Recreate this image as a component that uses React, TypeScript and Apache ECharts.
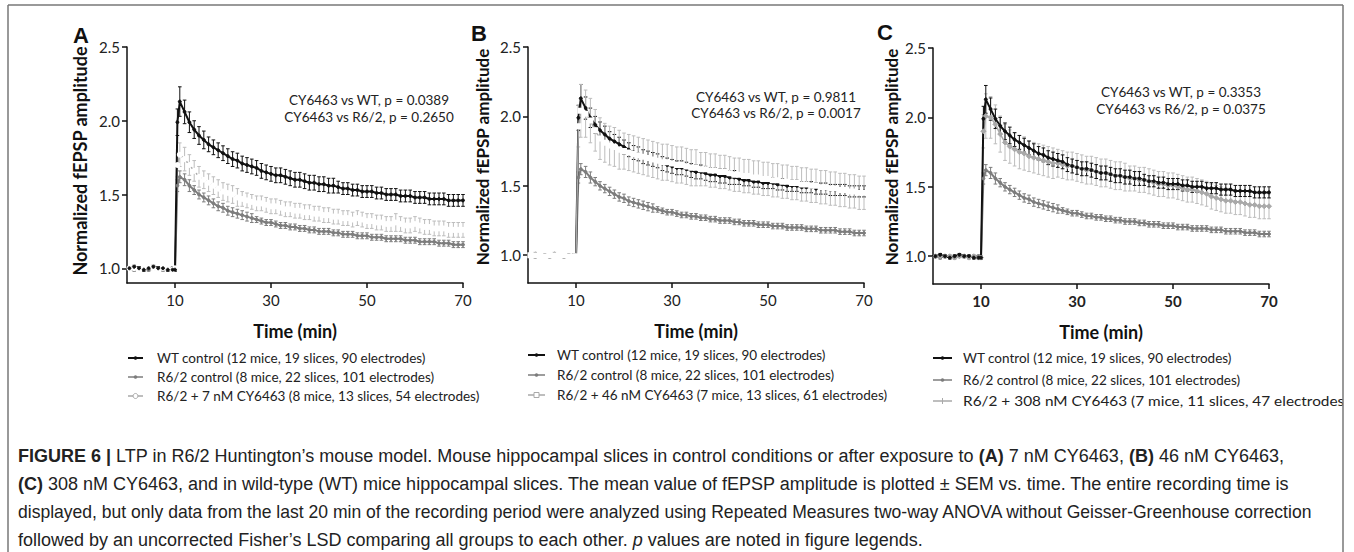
import React, { useEffect, useRef } from "react";
import * as echarts from "echarts";

// Time points (min)
const TIME = [0.5, 1.5, 2.5, 3.5, 4.5, 5.5, 6.5, 7.5, 8.5, 9.5, 10, 10.5,
  11, 12, 13, 14, 15, 16, 17, 18, 19, 20,
  21, 22, 23, 24, 25, 26, 27, 28, 29, 30,
  31, 32, 33, 34, 35, 36, 37, 38, 39, 40,
  41, 42, 43, 44, 45, 46, 47, 48, 49, 50,
  51, 52, 53, 54, 55, 56, 57, 58, 59, 60,
  61, 62, 63, 64, 65, 66, 67, 68, 69, 70];

// WT control mean / SEM
const WT_MEAN = [1.00, 1.01, 1.00, 0.99, 1.00, 1.01, 1.00, 1.00, 0.99, 0.99, 0.99, 1.99,
  2.13, 2.06, 1.99, 1.94, 1.90, 1.87, 1.84, 1.82, 1.80, 1.78,
  1.76, 1.74, 1.73, 1.71, 1.70, 1.69, 1.68, 1.66, 1.65, 1.64,
  1.63, 1.63, 1.62, 1.61, 1.60, 1.60, 1.59, 1.58, 1.58, 1.57,
  1.57, 1.56, 1.56, 1.55, 1.54, 1.54, 1.53, 1.53, 1.52, 1.52,
  1.52, 1.51, 1.51, 1.50, 1.50, 1.50, 1.49, 1.49, 1.49, 1.48,
  1.48, 1.48, 1.47, 1.47, 1.47, 1.47, 1.46, 1.46, 1.46, 1.46];
const WT_SEM = [0.01, 0.01, 0.01, 0.01, 0.01, 0.01, 0.01, 0.01, 0.01, 0.01, 0.01, 0.09,
  0.10, 0.08, 0.07, 0.06, 0.06, 0.06, 0.05, 0.05, 0.05, 0.05,
  0.05, 0.05, 0.05, 0.05, 0.05, 0.05, 0.05, 0.05, 0.05, 0.05,
  0.05, 0.05, 0.05, 0.05, 0.05, 0.05, 0.05, 0.05, 0.05, 0.05,
  0.05, 0.05, 0.05, 0.04, 0.04, 0.04, 0.04, 0.04, 0.04, 0.04,
  0.04, 0.04, 0.04, 0.04, 0.04, 0.04, 0.04, 0.04, 0.04, 0.04,
  0.04, 0.04, 0.04, 0.04, 0.04, 0.04, 0.04, 0.04, 0.04, 0.04];

// R6/2 control mean / SEM
const R62_MEAN = [1.00, 0.99, 1.00, 1.00, 0.99, 1.00, 1.00, 0.99, 1.00, 1.00, 0.99, 1.56,
  1.62, 1.60, 1.56, 1.53, 1.50, 1.48, 1.46, 1.44, 1.42, 1.41,
  1.39, 1.38, 1.37, 1.36, 1.35, 1.34, 1.33, 1.32, 1.31, 1.31,
  1.30, 1.29, 1.29, 1.28, 1.28, 1.27, 1.27, 1.26, 1.26, 1.25,
  1.25, 1.25, 1.24, 1.24, 1.23, 1.23, 1.23, 1.22, 1.22, 1.22,
  1.21, 1.21, 1.21, 1.20, 1.20, 1.20, 1.20, 1.19, 1.19, 1.19,
  1.18, 1.18, 1.18, 1.18, 1.17, 1.17, 1.17, 1.16, 1.16, 1.16];
const R62_SEM = [0.01, 0.01, 0.01, 0.01, 0.01, 0.01, 0.01, 0.01, 0.01, 0.01, 0.01, 0.04,
  0.04, 0.04, 0.04, 0.03, 0.03, 0.03, 0.03, 0.03, 0.03, 0.03,
  0.03, 0.03, 0.03, 0.03, 0.03, 0.03, 0.02, 0.02, 0.02, 0.02,
  0.02, 0.02, 0.02, 0.02, 0.02, 0.02, 0.02, 0.02, 0.02, 0.02,
  0.02, 0.02, 0.02, 0.02, 0.02, 0.02, 0.02, 0.02, 0.02, 0.02,
  0.02, 0.02, 0.02, 0.02, 0.02, 0.02, 0.02, 0.02, 0.02, 0.02,
  0.02, 0.02, 0.02, 0.02, 0.02, 0.02, 0.02, 0.02, 0.02, 0.02];

// R6/2 + 7 nM CY6463 (panel A)
const CY7_MEAN = [1.00, 1.00, 0.99, 1.00, 1.01, 1.00, 0.99, 1.00, 1.00, 0.99, 1.00, 1.70,
  1.77, 1.74, 1.70, 1.66, 1.62, 1.60, 1.58, 1.56, 1.54, 1.52,
  1.51, 1.50, 1.48, 1.47, 1.46, 1.45, 1.44, 1.44, 1.43, 1.42,
  1.42, 1.41, 1.40, 1.40, 1.39, 1.39, 1.38, 1.38, 1.37, 1.37,
  1.36, 1.36, 1.35, 1.35, 1.34, 1.34, 1.33, 1.34, 1.33, 1.32,
  1.32, 1.31, 1.31, 1.30, 1.30, 1.31, 1.30, 1.29, 1.29, 1.30,
  1.29, 1.28, 1.28, 1.27, 1.27, 1.27, 1.26, 1.26, 1.26, 1.26];
const CY7_SEM = [0.01, 0.01, 0.01, 0.01, 0.01, 0.01, 0.01, 0.01, 0.01, 0.01, 0.01, 0.08,
  0.08, 0.08, 0.07, 0.07, 0.07, 0.06, 0.06, 0.06, 0.06, 0.06,
  0.06, 0.06, 0.06, 0.05, 0.05, 0.05, 0.05, 0.05, 0.05, 0.05,
  0.05, 0.05, 0.05, 0.05, 0.05, 0.05, 0.05, 0.05, 0.05, 0.05,
  0.05, 0.05, 0.05, 0.05, 0.05, 0.05, 0.05, 0.05, 0.05, 0.05,
  0.05, 0.05, 0.05, 0.05, 0.05, 0.06, 0.05, 0.05, 0.05, 0.05,
  0.05, 0.05, 0.05, 0.05, 0.05, 0.05, 0.05, 0.05, 0.05, 0.05];

// R6/2 + 46 nM CY6463 (panel B)
const CY46_MEAN = [1.00, 1.00, 1.00, 0.99, 1.00, 1.00, 1.00, 1.00, 0.99, 0.99, 0.99, 1.93,
  2.04, 2.02, 1.97, 1.90, 1.84, 1.81, 1.79, 1.78, 1.76, 1.75,
  1.74, 1.73, 1.72, 1.71, 1.70, 1.69, 1.68, 1.67, 1.67, 1.66,
  1.65, 1.65, 1.64, 1.63, 1.63, 1.62, 1.62, 1.61, 1.61, 1.60,
  1.60, 1.59, 1.58, 1.58, 1.57, 1.57, 1.56, 1.56, 1.55, 1.55,
  1.54, 1.54, 1.53, 1.53, 1.52, 1.52, 1.51, 1.51, 1.50, 1.50,
  1.49, 1.49, 1.48, 1.48, 1.47, 1.47, 1.46, 1.46, 1.45, 1.45];
const CY46_SEM = [0.01, 0.01, 0.01, 0.01, 0.01, 0.01, 0.01, 0.01, 0.01, 0.01, 0.01, 0.15,
  0.19, 0.17, 0.16, 0.15, 0.15, 0.14, 0.14, 0.14, 0.14, 0.13,
  0.13, 0.13, 0.13, 0.13, 0.13, 0.13, 0.13, 0.13, 0.13, 0.13,
  0.13, 0.13, 0.13, 0.13, 0.13, 0.12, 0.12, 0.12, 0.12, 0.12,
  0.12, 0.12, 0.12, 0.12, 0.12, 0.12, 0.12, 0.12, 0.12, 0.12,
  0.12, 0.12, 0.12, 0.12, 0.12, 0.12, 0.12, 0.12, 0.12, 0.12,
  0.12, 0.12, 0.12, 0.12, 0.12, 0.12, 0.12, 0.12, 0.12, 0.12];

// R6/2 + 308 nM CY6463 (panel C)
const CY308_MEAN = [1.00, 1.00, 1.00, 1.00, 0.99, 1.00, 1.00, 0.99, 1.00, 0.99, 0.99, 1.90,
  2.01, 2.00, 1.95, 1.88, 1.82, 1.79, 1.77, 1.75, 1.74, 1.72,
  1.71, 1.70, 1.69, 1.68, 1.67, 1.67, 1.66, 1.65, 1.65, 1.64,
  1.63, 1.62, 1.62, 1.61, 1.60, 1.60, 1.59, 1.58, 1.58, 1.57,
  1.56, 1.56, 1.55, 1.55, 1.54, 1.53, 1.52, 1.52, 1.51, 1.51,
  1.50, 1.49, 1.48, 1.48, 1.47, 1.46, 1.45, 1.43, 1.42, 1.41,
  1.40, 1.40, 1.39, 1.39, 1.38, 1.37, 1.37, 1.36, 1.36, 1.36];
const CY308_SEM = [0.01, 0.01, 0.01, 0.01, 0.01, 0.01, 0.01, 0.01, 0.01, 0.01, 0.01, 0.12,
  0.16, 0.15, 0.14, 0.13, 0.13, 0.12, 0.12, 0.12, 0.12, 0.11,
  0.11, 0.11, 0.11, 0.11, 0.11, 0.10, 0.10, 0.10, 0.10, 0.10,
  0.10, 0.10, 0.10, 0.10, 0.10, 0.10, 0.10, 0.10, 0.10, 0.10,
  0.09, 0.09, 0.09, 0.09, 0.09, 0.09, 0.09, 0.09, 0.09, 0.09,
  0.09, 0.09, 0.09, 0.09, 0.09, 0.09, 0.09, 0.09, 0.09, 0.09,
  0.09, 0.09, 0.09, 0.09, 0.09, 0.09, 0.09, 0.09, 0.09, 0.09];

const X_TICKS = [10, 30, 50, 70];
const Y_TICKS = [1.0, 1.5, 2.0, 2.5];
const PANEL_LETTERS = ["A", "B", "C"];
const P_TEXTS = [
  ["CY6463 vs WT, p = 0.0389", "CY6463 vs R6/2, p = 0.2650"],
  ["CY6463 vs WT, p = 0.9811", "CY6463 vs R6/2, p = 0.0017"],
  ["CY6463 vs WT, p = 0.3353", "CY6463 vs R6/2, p = 0.0375"],
];
const LEGEND_WT = "WT control (12 mice, 19 slices, 90 electrodes)";
const LEGEND_R62 = "R6/2 control (8 mice, 22 slices, 101 electrodes)";
const LEGEND_TRT = [
  "R6/2 + 7 nM CY6463 (8 mice, 13 slices, 54 electrodes)",
  "R6/2 + 46 nM CY6463 (7 mice, 13 slices, 61 electrodes)",
  "R6/2 + 308 nM CY6463 (7 mice, 11 slices, 47 electrodes)",
];
const Y_TITLE = "Normalized fEPSP amplitude";
const X_TITLE = "Time (min)";
const CAPTION = [
  "{b|FIGURE 6 |} LTP in R6/2 Huntington\u2019s mouse model. Mouse hippocampal slices in control conditions or after exposure to {b|(A)} 7 nM CY6463, {b|(B)} 46 nM CY6463,",
  "{b|(C)} 308 nM CY6463, and in wild-type (WT) mice hippocampal slices. The mean value of fEPSP amplitude is plotted \u00b1 SEM vs. time. The entire recording time is",
  "displayed, but only data from the last 20 min of the recording period were analyzed using Repeated Measures two-way ANOVA without Geisser-Greenhouse correction",
  "followed by an uncorrected Fisher\u2019s LSD comparing all groups to each other. {i|p} values are noted in figure legends.",
];

const C_WT = "#111111";
const C_R62 = "#7d7d7d";
const C_TRT = "#a9a9a9";
const C_TRT_ERR = "#bdbdbd";
const FONT = "Lato";

export default function App() {
  const ref = useRef<HTMLDivElement>(null);
  useEffect(() => {
    const el = ref.current!;
    const chart = echarts.init(el, null, { renderer: "svg" });

    const panels = [
      { left: 127, top: 47, yMin: 0.9, trt: CY7_MEAN, trtSem: CY7_SEM, sym: "emptyCircle", symSize: 4, order: ["r62", "trt", "wt"], boldX: false },
      { left: 528, top: 47, yMin: 0.8, trt: CY46_MEAN, trtSem: CY46_SEM, sym: "emptyRect", symSize: 4, order: ["r62", "wt", "trt"], boldX: false },
      { left: 933, top: 48, yMin: 0.8, trt: CY308_MEAN, trtSem: CY308_SEM, sym: "diamond", symSize: 5, order: ["r62", "trt", "wt"], boldX: true },
    ];

    const grids: any[] = [];
    const xAxes: any[] = [];
    const yAxes: any[] = [];
    const series: any[] = [];

    const errSeries = (idx: number, mean: number[], sem: number[], color: string, capW: number) => ({
      type: "custom",
      xAxisIndex: idx,
      yAxisIndex: idx,
      silent: true,
      encode: { x: 0, y: 1 },
      data: TIME.map((t, i) => [t, mean[i], sem[i]]),
      renderItem: (params: any, api: any) => {
        const x = api.value(0);
        const y = api.value(1);
        const s = api.value(2);
        const hi = api.coord([x, y + s]);
        const lo = api.coord([x, y - s]);
        const st = { stroke: color, lineWidth: 1 };
        return {
          type: "group",
          children: [
            { type: "line", shape: { x1: hi[0], y1: hi[1], x2: lo[0], y2: lo[1] }, style: st },
            { type: "line", shape: { x1: hi[0] - capW, y1: hi[1], x2: hi[0] + capW, y2: hi[1] }, style: st },
            { type: "line", shape: { x1: lo[0] - capW, y1: lo[1], x2: lo[0] + capW, y2: lo[1] }, style: st },
          ],
        };
      },
    });

    const lineSeries = (idx: number, name: string, mean: number[], color: string, symbol: string, size: number, width: number) => ({
      type: "line",
      name,
      xAxisIndex: idx,
      yAxisIndex: idx,
      data: TIME.map((t, i) => [t, mean[i]]),
      symbol,
      symbolSize: size,
      showSymbol: true,
      silent: true,
      lineStyle: { color, width },
      itemStyle: { color: symbol.startsWith("empty") ? "#ffffff" : color, borderColor: color, borderWidth: 1 },
    });

    panels.forEach((p, idx) => {
      grids.push({ left: p.left, top: p.top, width: 336, height: 236, containLabel: false, outerBoundsMode: "none" });
      xAxes.push({
        type: "value",
        gridIndex: idx,
        min: 0,
        max: 70,
        axisLine: { show: true, lineStyle: { color: "#111", width: 1.5 } },
        axisTick: { show: true, length: 5, customValues: X_TICKS, lineStyle: { color: "#111", width: 1.5 } },
        axisLabel: {
          customValues: X_TICKS,
          margin: 9,
          fontFamily: FONT,
          fontSize: 15,
          fontWeight: p.boldX ? "bold" : "normal",
          color: "#222",
        },
        splitLine: { show: false },
      });
      yAxes.push({
        type: "value",
        gridIndex: idx,
        min: p.yMin,
        max: 2.5,
        axisLine: { show: true, lineStyle: { color: "#111", width: 1.5 } },
        axisTick: { show: true, length: 5, customValues: Y_TICKS, lineStyle: { color: "#111", width: 1.5 } },
        axisLabel: {
          customValues: Y_TICKS,
          margin: 7,
          fontFamily: FONT,
          fontSize: 15,
          color: "#222",
          formatter: (v: number) => v.toFixed(1),
        },
        splitLine: { show: false },
      });
      p.order.forEach((k) => {
        if (k === "wt") {
          series.push(errSeries(idx, WT_MEAN, WT_SEM, C_WT, 1.8));
          series.push(lineSeries(idx, "WT", WT_MEAN, C_WT, "circle", 3, 2));
        } else if (k === "r62") {
          series.push(errSeries(idx, R62_MEAN, R62_SEM, C_R62, 1.8));
          series.push(lineSeries(idx, "R6/2", R62_MEAN, C_R62, "circle", 3, 2));
        } else {
          series.push(errSeries(idx, p.trt, p.trtSem, C_TRT_ERR, 1.8));
          series.push(lineSeries(idx, "CY6463", p.trt, C_TRT, p.sym, p.symSize, 1.5));
        }
      });
    });

    const graphic: any[] = [];
    // frame
    graphic.push({ type: "line", shape: { x1: 8, y1: 5, x2: 1343, y2: 5 }, style: { stroke: "#777", lineWidth: 1.5 } });
    graphic.push({ type: "line", shape: { x1: 8, y1: 5, x2: 8, y2: 560 }, style: { stroke: "#777", lineWidth: 1.5 } });

    const letterPos = [[81, 35], [479, 33], [885, 32]];
    const yTitlePos = [[80, 161], [482, 157], [891, 157]];
    const pTextPos = [[369, 100, 117], [776, 97, 113], [1181, 92, 109]];
    const xTitlePos = [[295, 331], [696, 331], [1101, 332]];
    const legendPos = [
      { x0: 128, x1: 143, tx: 157, ys: [358, 377, 396], sx: 1 },
      { x0: 528, x1: 545, tx: 557, ys: [355, 375, 395], sx: 1 },
      { x0: 933, x1: 952, tx: 963, ys: [358, 380, 401], sx: 1.14 },
    ];

    panels.forEach((p, idx) => {
      graphic.push({
        type: "text", x: letterPos[idx][0], y: letterPos[idx][1],
        style: { text: PANEL_LETTERS[idx], font: 'bold 22px "Liberation Sans"', fill: "#111", align: "center", verticalAlign: "middle" },
      });
      graphic.push({
        type: "text", x: yTitlePos[idx][0], y: yTitlePos[idx][1], rotation: Math.PI / 2,
        style: { text: Y_TITLE, font: `bold ${idx === 0 ? 18 : 17}px ${FONT}`, fill: "#111", align: "center", verticalAlign: "middle" },
      });
      graphic.push({
        type: "text", x: pTextPos[idx][0], y: pTextPos[idx][1],
        style: { text: P_TEXTS[idx][0], font: `13.5px ${FONT}`, fill: "#222", align: "center", verticalAlign: "middle" },
      });
      graphic.push({
        type: "text", x: pTextPos[idx][0], y: pTextPos[idx][2],
        style: { text: P_TEXTS[idx][1], font: `13.5px ${FONT}`, fill: "#222", align: "center", verticalAlign: "middle" },
      });
      graphic.push({
        type: "text", x: xTitlePos[idx][0], y: xTitlePos[idx][1],
        style: { text: X_TITLE, font: `bold 18px ${FONT}`, fill: "#111", align: "center", verticalAlign: "middle" },
      });
      const lg = legendPos[idx];
      const labels = [LEGEND_WT, LEGEND_R62, LEGEND_TRT[idx]];
      const colors = [C_WT, C_R62, C_TRT];
      labels.forEach((lab, j) => {
        const y = lg.ys[j];
        const cx = (lg.x0 + lg.x1) / 2;
        graphic.push({ type: "line", shape: { x1: lg.x0, y1: y, x2: lg.x1, y2: y }, style: { stroke: colors[j], lineWidth: j === 0 ? 2 : 1.5 } });
        if (j < 2) {
          graphic.push({ type: "circle", shape: { cx, cy: y, r: 1.8 }, style: { fill: colors[j] } });
        } else if (idx === 0) {
          graphic.push({ type: "circle", shape: { cx, cy: y, r: 2.5 }, style: { fill: "#fff", stroke: colors[j], lineWidth: 1 } });
        } else if (idx === 1) {
          graphic.push({ type: "rect", shape: { x: cx - 2.5, y: y - 2.5, width: 5, height: 5 }, style: { fill: "#fff", stroke: colors[j], lineWidth: 1 } });
        } else {
          graphic.push({ type: "line", shape: { x1: cx, y1: y - 3, x2: cx, y2: y + 3 }, style: { stroke: colors[j], lineWidth: 1 } });
        }
        graphic.push({
          type: "text", x: lg.tx, y, scaleX: j === 2 ? lg.sx : 1,
          style: { text: lab, font: `13.5px ${FONT}`, fill: "#222", align: "left", verticalAlign: "middle" },
        });
      });
    });

    // clip right edge and draw right frame
    graphic.push({ type: "rect", shape: { x: 1343, y: 0, width: 20, height: 560 }, style: { fill: "#fff" } });
    graphic.push({ type: "line", shape: { x1: 1343, y1: 5, x2: 1343, y2: 560 }, style: { stroke: "#777", lineWidth: 1.5 } });

    const capY = [456, 484, 512, 540];
    const capSX = [1, 1, 0.975, 1];
    CAPTION.forEach((line, i) => {
      graphic.push({
        type: "text", x: 18, y: capY[i], scaleX: capSX[i],
        style: {
          text: line,
          fontFamily: "Liberation Sans",
          fontSize: 18,
          fill: "#222",
          align: "left",
          verticalAlign: "middle",
          rich: {
            b: { fontFamily: "Liberation Sans", fontSize: 18, fontWeight: "bold", fill: "#222" },
            i: { fontFamily: "Liberation Sans", fontSize: 18, fontStyle: "italic", fill: "#222" },
          },
        },
      });
    });

    chart.setOption({
      animation: false,
      backgroundColor: "#ffffff",
      grid: grids,
      xAxis: xAxes,
      yAxis: yAxes,
      series,
      graphic,
    });
    return () => chart.dispose();
  }, []);

  return <div ref={ref} style={{ position: "fixed", left: 0, top: 0, width: 1354, height: 552 }} />;
}
